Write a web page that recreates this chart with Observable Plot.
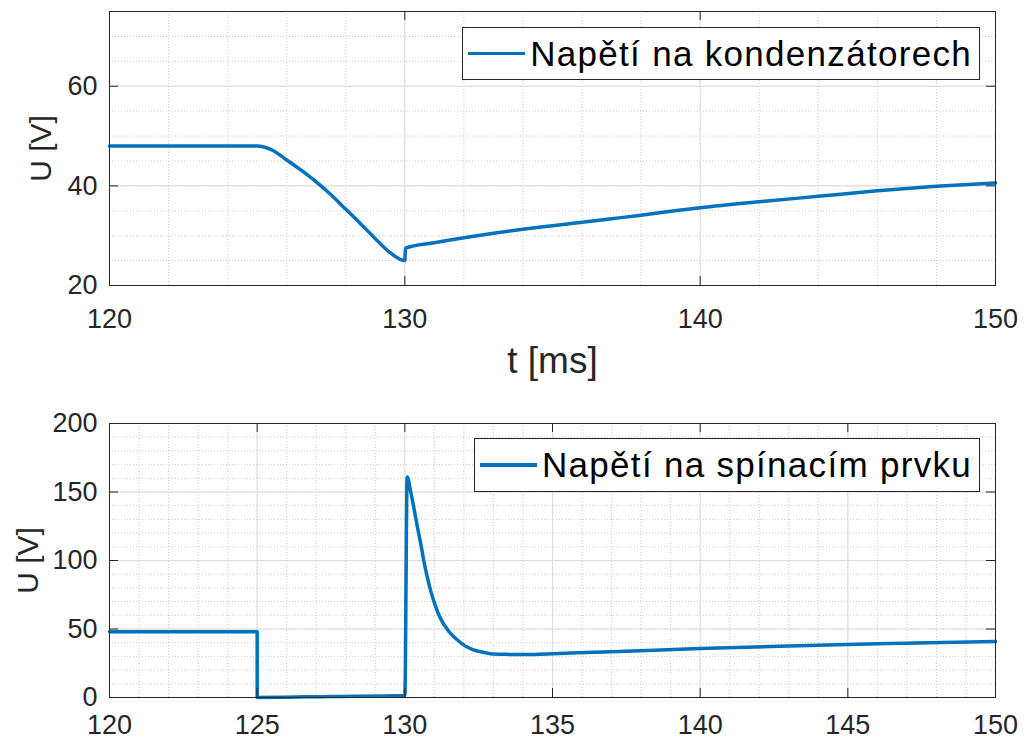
<!DOCTYPE html>
<html>
<head>
<meta charset="utf-8">
<script src="https://cdn.jsdelivr.net/npm/d3@7"></script>
<script src="https://cdn.jsdelivr.net/npm/@observablehq/plot@0.6"></script>
<style>
  html, body { margin: 0; padding: 0; background: #fff; }
  #fig { position: relative; width: 1034px; height: 740px; font-family: "Liberation Sans", Arial, Helvetica, sans-serif; }
  #fig svg { display: block; }
  .legend {
    position: absolute; right: 54px; box-sizing: border-box;
    display: flex; align-items: center;
    background: #fff; border: 1px solid #262626;
    padding: 0 7px 0 5px;
    font-family: "Liberation Sans", Arial, Helvetica, sans-serif;
    font-size: 35px; letter-spacing: 1.3px; color: #000; white-space: nowrap;
  }
  .legend .swatch { width: 57px; height: 3.5px; background: #0072BD; margin-right: 5px; }
</style>
</head>
<body>
<div id="fig">
  <div id="topPanel"></div>
  <div id="bottomPanel"></div>
  <div class="legend" style="top:27px;height:53px"><span class="swatch"></span><span>Napětí na kondenzátorech</span></div>
  <div class="legend" style="top:438px;height:54px"><span class="swatch"></span><span>Napětí na spínacím prvku</span></div>
</div>
<script>
// Capacitor voltage, t [ms] / U [V]
const capT = [120, 125, 125.5, 126, 126.5, 127, 127.5, 128, 128.5, 129, 129.5, 130, 130.02,
  131, 132, 133, 134, 135, 136, 137, 138, 139, 140, 142, 144, 146, 148, 150];
const capU = [48, 48, 47.2, 45.2, 43.1, 40.8, 38.2, 35.3, 32.4, 29.4, 26.6, 25.0, 27.5,
  28.6, 29.6, 30.5, 31.3, 32.0, 32.7, 33.4, 34.1, 34.9, 35.6, 36.8, 37.9, 39.0, 39.9, 40.6];

// Voltage across the switching element, t [ms] / U [V]
const swT = [120, 125, 125, 127.5, 130, 130.08, 130.2, 130.3, 130.43, 130.55, 130.64, 130.77,
  130.9, 131.05, 131.2, 131.5, 131.8, 132.05, 132.3, 132.6, 132.9, 133.4, 134, 134.8, 135.6,
  137, 140, 143, 146, 150];
const swU = [48, 48, 0, 0.8, 1.5, 161, 150, 139, 124, 111, 100, 87,
  76, 66, 58, 48, 41.6, 37.5, 35, 33.2, 32, 31.5, 31.3, 31.8, 32.4,
  33.4, 35.7, 37.6, 39.2, 40.8];

// Axis ticks
const topXTicks = [120, 130, 140, 150];
const topYTicks = [20, 40, 60];
const botXTicks = [120, 125, 130, 135, 140, 145, 150];
const botYTicks = [0, 50, 100, 150, 200];

const capData = capT.map((t, i) => ({t, u: capU[i]}));
const swData = swT.map((t, i) => ({t, u: swU[i]}));

const W = 1034, ML = 109, MR = 39;
const FW = W - ML - MR, FH = 274, TICK = 9;
const lineColor = "#0072BD";
const axisColor = "#262626";

function panel({data, height, marginTop, marginBottom, xDomain, yDomain, xTicks, yTicks,
                xMinor, yMinor, xPad, extra = []}) {
  return Plot.plot({
    width: W, height, marginLeft: ML, marginRight: MR, marginTop, marginBottom,
    style: {fontFamily: '"Liberation Sans", Arial, Helvetica, sans-serif', color: axisColor, background: "#fff", overflow: "visible"},
    x: {domain: xDomain},
    y: {domain: yDomain},
    marks: [
      // minor grid (dotted)
      Plot.ruleX(xMinor, {stroke: "#cccccc", strokeDasharray: "1,2"}),
      Plot.ruleY(yMinor, {stroke: "#cccccc", strokeDasharray: "1,2"}),
      // major grid
      Plot.ruleX(xTicks, {stroke: "#dcdcdc"}),
      Plot.ruleY(yTicks, {stroke: "#dcdcdc"}),
      // series
      Plot.line(data, {x: "t", y: "u", stroke: lineColor, strokeWidth: 3.5, curve: "monotone-x"}),
      // box
      Plot.frame({stroke: axisColor, strokeWidth: 1}),
      // inward ticks on all four sides
      Plot.ruleX(xTicks, {stroke: axisColor, insetTop: FH - TICK}),
      Plot.ruleX(xTicks, {stroke: axisColor, insetBottom: FH - TICK}),
      Plot.ruleY(yTicks, {stroke: axisColor, insetRight: FW - TICK}),
      Plot.ruleY(yTicks, {stroke: axisColor, insetLeft: FW - TICK}),
      // tick labels
      Plot.axisX(xTicks, {tickSize: 0, tickPadding: xPad, fontSize: 27, label: null}),
      Plot.axisY(yTicks, {tickSize: 0, tickPadding: 12, fontSize: 27, label: null}),
      ...extra
    ]
  });
}

const topChart = panel({
  data: capData, height: 380, marginTop: 11, marginBottom: 95,
  xDomain: [120, 150], yDomain: [20, 75],
  xTicks: topXTicks, yTicks: topYTicks,
  xMinor: d3.range(122, 150, 2), yMinor: d3.range(25, 75, 5), xPad: 23,
  extra: [
    Plot.text(["U [V]"], {frameAnchor: "left", textAnchor: "middle", rotate: -90, dx: -68, fontSize: 30, fill: axisColor}),
    Plot.text(["t [ms]"], {frameAnchor: "bottom", textAnchor: "middle", lineAnchor: "bottom", dy: 87, fontSize: 37, fill: axisColor})
  ]
});

const bottomChart = panel({
  data: swData, height: 360, marginTop: 43, marginBottom: 43,
  xDomain: [120, 150], yDomain: [0, 200],
  xTicks: botXTicks, yTicks: botYTicks,
  xMinor: d3.range(121, 150, 1), yMinor: d3.range(10, 200, 10), xPad: 17,
  extra: [
    Plot.text(["U [V]"], {frameAnchor: "left", textAnchor: "middle", rotate: -90, dx: -81, fontSize: 30, fill: axisColor})
  ]
});

document.getElementById("topPanel").append(topChart);
document.getElementById("bottomPanel").append(bottomChart);
</script>
</body>
</html>
